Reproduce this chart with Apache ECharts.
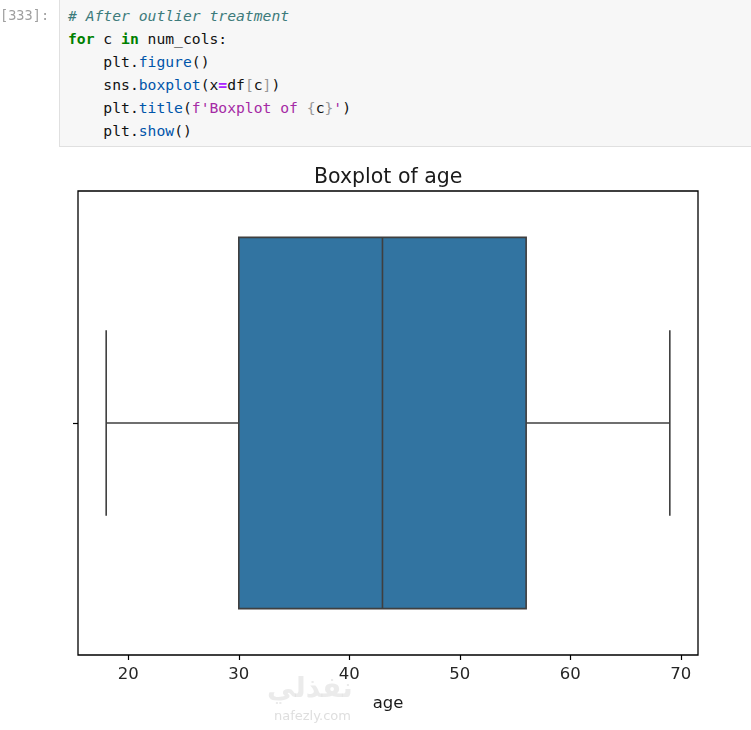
<!DOCTYPE html>
<html>
<head>
<meta charset="utf-8">
<script src="https://cdn.jsdelivr.net/npm/echarts@6/dist/echarts.min.js"></script>
<style>
  html, body { margin: 0; padding: 0; background: #ffffff; }
  #chart { position: absolute; left: 0; top: 0; width: 751px; height: 730px; }
  #prompt { position: absolute; left: 0; top: 4px; font-family: "DejaVu Sans Mono", monospace; font-size: 13.6px; line-height: 23px; color: #a0a0a0; z-index: 2; white-space: pre; }
  #cell { position: absolute; left: 59px; top: -1px; width: 692px; height: 148px; background: #f7f7f7; border-left: 1px solid #e0e0e0; border-bottom: 1px solid #e0e0e0; z-index: 2; box-sizing: border-box; }
  #code { position: absolute; left: 8px; top: 5px; margin: 0; font-family: "DejaVu Sans Mono", monospace; font-size: 14.7px; line-height: 23px; color: #111; white-space: pre; }
  .cm { color: #3d7b7b; font-style: italic; }
  .kw { color: #008000; font-weight: bold; }
  .pr { color: #0055aa; }
  .op { color: #aa22ff; font-weight: bold; }
  .br { color: #999999; }
  .st { color: #a52aa5; }
</style>
</head>
<body>
<div id="chart"></div>
<div id="prompt">[333]:</div>
<div id="cell"><pre id="code"><span class="cm"># After outlier treatment</span>
<span class="kw">for</span> c <span class="kw">in</span> num_cols:
    plt.<span class="pr">figure</span>()
    sns.<span class="pr">boxplot</span>(x<span class="op">=</span>df<span class="br">[</span>c<span class="br">]</span>)
    plt.<span class="pr">title</span>(<span class="st">f'Boxplot of </span><span class="br">{</span>c<span class="br">}</span><span class="st">'</span>)
    plt.<span class="pr">show</span>()</pre></div>
<script>
// ---- data ----
var categories   = ['age'];
var whiskerLow   = [18];
var q1Values     = [30];
var medianValues = [43];
var q3Values     = [56];
var whiskerHigh  = [69];
var xTickValues  = [20, 30, 40, 50, 60, 70];
var titleText    = 'Boxplot of age';

var seriesData = categories.map(function (c, i) {
  return [i, whiskerLow[i], q1Values[i], medianValues[i], q3Values[i], whiskerHigh[i]];
});

var chart = echarts.init(document.getElementById('chart'), null, { renderer: 'canvas' });
var edge = '#3f3f3f';
var font = 'DejaVu Sans';

chart.setOption({
  backgroundColor: '#ffffff',
  animation: false,
  title: {
    text: titleText,
    left: 309,
    top: 162,
    textStyle: { fontFamily: font, fontSize: 20.5, fontWeight: 'normal', color: '#1a1a1a' }
  },
  grid: {
    left: 78, right: 53, top: 191, bottom: 75,
    show: true, borderColor: '#000000', borderWidth: 1.3, backgroundColor: '#ffffff'
  },
  xAxis: {
    type: 'value',
    min: 15.45,
    max: 71.55,
    name: 'age',
    nameLocation: 'middle',
    nameGap: 40,
    nameTextStyle: { fontFamily: font, fontSize: 16.5, color: '#1a1a1a' },
    axisLine: { show: false, onZero: false },
    axisTick: { show: true, customValues: xTickValues, length: 5, lineStyle: { color: '#000', width: 1.2 } },
    axisLabel: { customValues: xTickValues, margin: 11, fontFamily: font, fontSize: 16.5, color: '#262626' },
    splitLine: { show: false }
  },
  yAxis: {
    type: 'value',
    min: -0.5,
    max: 0.5,
    inverse: true,
    axisLine: { show: false, onZero: false },
    axisTick: { show: true, customValues: [0], length: 5, lineStyle: { color: '#000', width: 1.2 } },
    axisLabel: { show: false },
    splitLine: { show: false }
  },
  graphic: [
    { type: 'text', left: 267, top: 676, z: 0, silent: true,
      style: { text: 'نفذلي', fontFamily: 'DejaVu Sans', fontSize: 28, fontWeight: 'bold', fill: 'rgba(205,205,205,0.4)' } },
    { type: 'text', left: 274, top: 710, z: 0, silent: true,
      style: { text: 'nafezly.com', fontFamily: 'DejaVu Sans', fontSize: 13, fill: 'rgba(195,195,195,0.55)' } }
  ],
  series: [{
    type: 'custom',
    data: seriesData,
    encode: { x: [1, 2, 3, 4, 5], y: 0 },
    z: 3,
    renderItem: function (params, api) {
      var y = api.value(0);
      var pLo = api.coord([api.value(1), y]);
      var pQ1 = api.coord([api.value(2), y]);
      var pMed = api.coord([api.value(3), y]);
      var pQ3 = api.coord([api.value(4), y]);
      var pHi = api.coord([api.value(5), y]);
      var band = api.size([0, 1])[1];
      var bh = band * 0.8, ch = band * 0.4;
      var cy = pQ1[1];
      var ls = { stroke: edge, lineWidth: 1.6 };
      return {
        type: 'group',
        children: [
          { type: 'line', shape: { x1: pLo[0], y1: cy, x2: pQ1[0], y2: cy }, style: ls },
          { type: 'line', shape: { x1: pQ3[0], y1: cy, x2: pHi[0], y2: cy }, style: ls },
          { type: 'line', shape: { x1: pLo[0], y1: cy - ch / 2, x2: pLo[0], y2: cy + ch / 2 }, style: ls },
          { type: 'line', shape: { x1: pHi[0], y1: cy - ch / 2, x2: pHi[0], y2: cy + ch / 2 }, style: ls },
          { type: 'rect', shape: { x: pQ1[0], y: cy - bh / 2, width: pQ3[0] - pQ1[0], height: bh },
            style: { fill: '#3274a1', stroke: edge, lineWidth: 1.6 } },
          { type: 'line', shape: { x1: pMed[0], y1: cy - bh / 2, x2: pMed[0], y2: cy + bh / 2 }, style: ls }
        ]
      };
    }
  }]
});
</script>
</body>
</html>
